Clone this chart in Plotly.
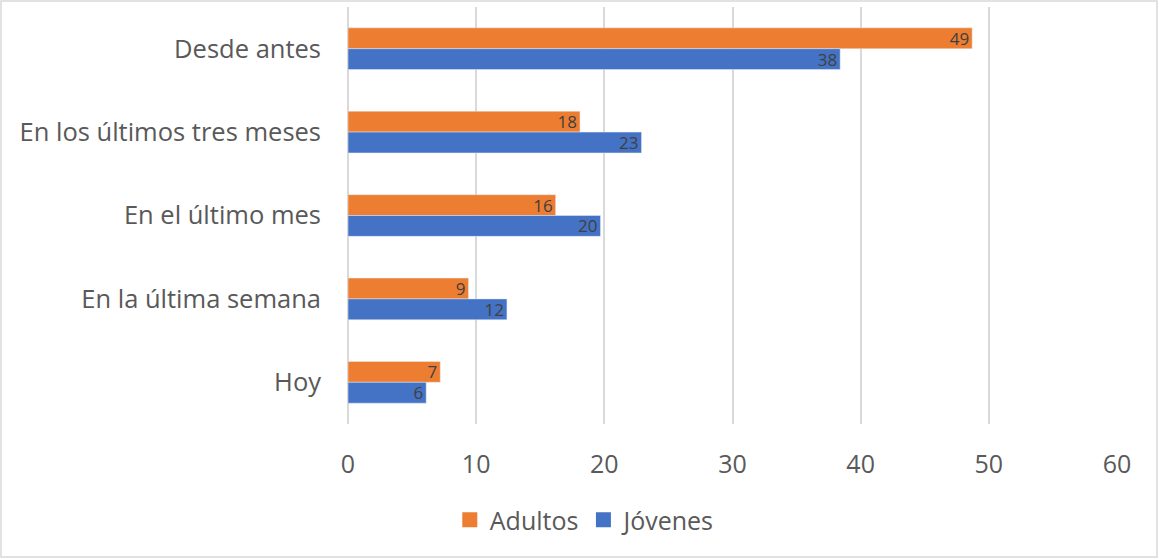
import plotly.graph_objects as go

categories = ["Desde antes", "En los últimos tres meses", "En el último mes", "En la última semana", "Hoy"]
adultos = [48.7, 18.1, 16.2, 9.4, 7.2]
jovenes = [38.4, 22.9, 19.7, 12.4, 6.1]
x_ticks = [0, 10, 20, 30, 40, 50, 60]
series = [("Adultos", adultos, "#ED7D31"), ("Jóvenes", jovenes, "#4472C4")]

W, H = 1159, 559
L, R, T, B = 348, 42, 7, 135
FONT = "Open Sans"

fig = go.Figure()
for name, vals, col in series:
    fig.add_trace(go.Bar(
        y=categories, x=vals, name=name, orientation="h",
        marker=dict(color=col), showlegend=False,
        texttemplate="%{x:.0f}", textposition="inside", insidetextanchor="end",
        textangle=0, constraintext="none",
        textfont=dict(family=FONT, size=17, color="#404040"),
    ))
for name, vals, col in series:
    fig.add_trace(go.Scatter(
        x=[None], y=[None], mode="markers", name=name,
        marker=dict(symbol="square", size=15, color=col),
        showlegend=True, hoverinfo="skip",
    ))

pw = W - L - R
ph = H - T - B
fig.update_layout(
    width=W, height=H,
    margin=dict(l=L, r=R, t=T, b=B),
    paper_bgcolor="white", plot_bgcolor="white",
    barmode="group", bargap=0.5, bargroupgap=0,
    font=dict(family=FONT, color="#595959", size=25),
    uniformtext=dict(minsize=10, mode="show"),
    xaxis=dict(
        range=[0, 60], tickvals=x_ticks, showgrid=True, gridcolor="#d9d9d9", gridwidth=2,
        zeroline=True, zerolinecolor="#d9d9d9", zerolinewidth=2, showline=False,
        ticks="", ticklabelstandoff=23, tickfont=dict(size=25, color="#595959"),
    ),
    yaxis=dict(
        autorange="reversed", showgrid=False, showline=False, ticks="",
        ticklabelstandoff=26, tickfont=dict(size=25.5, color="#595959"),
    ),
    legend=dict(
        orientation="h", xref="container", yref="container",
        x=0.505, xanchor="center", y=1 - 520 / H, yanchor="middle",
        font=dict(size=25, color="#595959"), itemwidth=30, traceorder="normal",
    ),
    showlegend=True,
    shapes=[dict(
        type="rect", xref="paper", yref="paper",
        x0=(1 - L) / pw, x1=(W - 2 - L) / pw,
        y0=-(B - 2) / ph, y1=1 + (T - 1) / ph,
        line=dict(color="#d9d9d9", width=1.5), layer="below",
    )],
)

fig.write_html("out.html")
